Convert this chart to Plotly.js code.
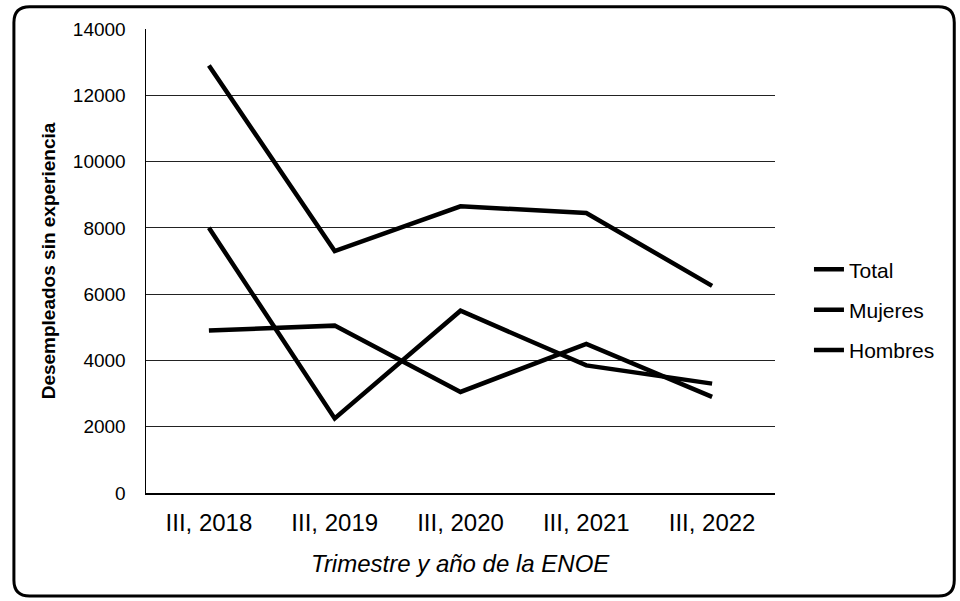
<!DOCTYPE html>
<html>
<head>
<meta charset="utf-8">
<script src="https://cdn.plot.ly/plotly-3.0.1.min.js"></script>
<style>html,body{margin:0;padding:0;background:#fff}#chart{width:960px;height:601px}</style>
</head>
<body>
<div id="chart"></div>
<script>
const categories = ["III, 2018", "III, 2019", "III, 2020", "III, 2021", "III, 2022"];
const total = [12900, 7300, 8650, 8450, 6250];
const mujeres = [8000, 2250, 5500, 3850, 3300];
const hombres = [4900, 5050, 3050, 4500, 2900];
const yTicks = [0, 2000, 4000, 6000, 8000, 10000, 12000, 14000];

const font = "Liberation Sans, Arial, sans-serif";
const lineStyle = {color: "#000", width: 4.5};

const traces = [
  {x: categories, y: total, name: "Total", legendgroup: "a"},
  {x: categories, y: mujeres, name: "Mujeres", legendgroup: "b"},
  {x: categories, y: hombres, name: "Hombres", legendgroup: "c"}
].map(t => Object.assign(t, {type: "scatter", mode: "lines", line: lineStyle}));

// paper coords for the outer rounded border
const L = -0.21, R = 1.285, T = 1.048, B = -0.222, rx = 0.025, ry = 0.034;
const borderPath = `M ${L+rx},${T} L ${R-rx},${T} Q ${R},${T} ${R},${T-ry} L ${R},${B+ry} Q ${R},${B} ${R-rx},${B} L ${L+rx},${B} Q ${L},${B} ${L},${B+ry} L ${L},${T-ry} Q ${L},${T} ${L+rx},${T} Z`;

const layout = {
  width: 960, height: 601,
  margin: {l: 146, r: 185, t: 29, b: 108},
  paper_bgcolor: "#fff", plot_bgcolor: "#fff",
  font: {family: font, color: "#000"},
  showlegend: true,
  legend: {
    x: 1.054, y: 0.395, xanchor: "left", yanchor: "middle",
    traceorder: "grouped", tracegroupgap: 10,
    font: {size: 21, family: font, color: "#000"},
    bgcolor: "rgba(0,0,0,0)"
  },
  xaxis: {
    type: "category", range: [-0.5, 4.5],
    showgrid: false, zeroline: false,
    showline: true, linecolor: "#000", linewidth: 1.5,
    ticks: "", ticklabelstandoff: 8,
    tickfont: {size: 24, family: font, color: "#000"},
    fixedrange: true
  },
  yaxis: {
    range: [0, 14000], tickvals: yTicks, tickformat: "d",
    showgrid: true, gridcolor: "#222", gridwidth: 1,
    zeroline: false, showline: true, linecolor: "#000", linewidth: 1.5,
    ticks: "", ticklabelstandoff: 15,
    tickfont: {size: 19, family: font, color: "#000"},
    title: {text: "<b>Desempleados sin experiencia</b>", standoff: 12,
            font: {size: 19, family: font, color: "#000"}},
    fixedrange: true
  },
  annotations: [{
    xref: "paper", yref: "paper", x: 0.5, y: -0.118,
    xanchor: "center", yanchor: "top", showarrow: false,
    text: "<i>Trimestre y año de la ENOE</i>",
    font: {size: 24, family: font, color: "#000"}
  }],
  shapes: [{
    type: "path", xref: "paper", yref: "paper", path: borderPath,
    line: {color: "#000", width: 3}, fillcolor: "rgba(0,0,0,0)", layer: "above"
  }]
};

Plotly.newPlot("chart", traces, layout, {displayModeBar: false, staticPlot: true});
</script>
</body>
</html>
